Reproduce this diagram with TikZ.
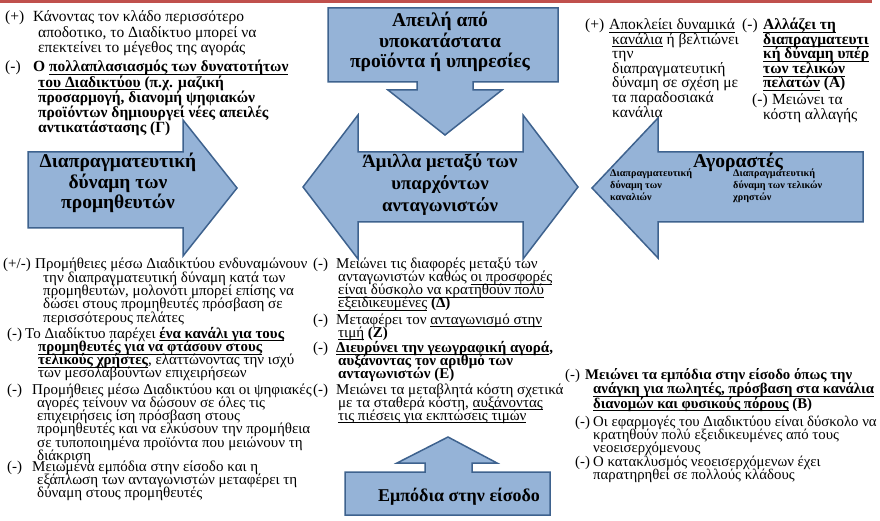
\documentclass[tikz,border=0pt]{standalone}
\usepackage{fontspec}
\setmainfont{Liberation Serif}
\definecolor{arrfill}{RGB}{149,179,215}
\definecolor{arrline}{RGB}{62,98,142}
\definecolor{topbar}{RGB}{192,80,77}
\newcommand{\nx}[1]{\\\hspace*{#1pt}}
\newcommand{\blk}[1]{\vtop{\lineskiplimit=-50pt\let\\\cr\halign{##\hfil\cr#1\crcr}}}
\newsavebox\ulbox
\newcommand{\uln}[1]{\sbox\ulbox{#1}\rlap{\rule[-3pt]{\wd\ulbox}{0.7pt}}\usebox\ulbox}

\begin{document}
\begin{tikzpicture}[x=1pt,y=-1pt,
  arr/.style={fill=arrfill, draw=arrline, line width=1.5pt},
  lbl/.style={font={\bfseries\fontsize{19.5}{20.5}\selectfont}, align=center, inner sep=0pt},
  chanlbl/.style={font={\bfseries\fontsize{10.2}{12}\selectfont}, anchor=base west, inner sep=0pt},
  txt/.style={anchor=base west, inner sep=0pt},
  tla/.style={font={\fontsize{15.5}{15.2}\selectfont}},
  tra/.style={font={\fontsize{15.5}{14.6}\selectfont}},
  llf/.style={font={\fontsize{15}{13.3}\selectfont}},
  mdf/.style={font={\fontsize{15}{13}\selectfont}},
  lrb/.style={font={\fontsize{14.8}{14.5}\selectfont}},
  lrf/.style={font={\fontsize{14.8}{13}\selectfont}}]
  \useasboundingbox (0,0) rectangle (880,521);
  \fill[topbar] (0,0) rectangle (872,3.5);

  \draw[arr] (328,8) -- (558,8) -- (558,82) -- (473,82) -- (473,90) -- (502,90) -- (445,135) -- (388,90) -- (417,90) -- (417,82) -- (328,82) -- cycle;
  \draw[arr] (28,152) -- (183,152) -- (183,120) -- (237,188) -- (183,256) -- (183,228) -- (28,228) -- cycle;
  \draw[arr] (358,152) -- (523,152) -- (523,115) -- (578,187) -- (523,259) -- (523,222) -- (358,222) -- (358,259) -- (303,187) -- (358,115) -- cycle;
  \draw[arr] (863,152) -- (658,152) -- (658,118) -- (592,188) -- (658,258) -- (658,222) -- (863,222) -- cycle;
  \draw[arr] (345,515) -- (550,515) -- (550,472) -- (472,472) -- (472,463) -- (497,463) -- (448,437) -- (397,463) -- (425,463) -- (425,472) -- (345,472) -- cycle;

  \node[lbl] (subst) at (440,42) {Απειλή από\\υποκατάστατα\\προϊόντα ή υπηρεσίες};
  \node[lbl] (suppl) at (118,183) {Διαπραγματευτική\\δύναμη των\\προμηθευτών};
  \node[lbl, font={\bfseries\fontsize{18.8}{22}\selectfont}] (rival) at (440,185) {Άμιλλα μεταξύ των\\υπαρχόντων\\ανταγωνιστών};
  \node[lbl, font={\bfseries\fontsize{19.6}{22}\selectfont}] (buyer) at (738,162) {Αγοραστές};
  \node[chanlbl] (chan) at (610,177) {\blk{Διαπραγματευτική\\δύναμη των\\καναλιών}};
  \node[chanlbl] (endu) at (733,177) {\blk{Διαπραγματευτική\\δύναμη των τελικών\\χρηστών}};
  \node[lbl, font={\bfseries\fontsize{18}{20}\selectfont}] (entry) at (459,497) {Εμπόδια στην είσοδο};

  \node[txt, tla] (tl1) at (5,22) {\blk{\makebox[28pt][l]{(+)}Κάνοντας τον κλάδο περισσότερο\nx{33}αποδοτικο, το Διαδίκτυο μπορεί να\nx{33}επεκτείνει το μέγεθος της αγοράς}};
  \node[txt, tla] (tl2) at (5,72) {\blk{\makebox[28pt][l]{(-)}\textbf{Ο \uln{πολλαπλασιασμός των δυνατοτήτων}}\nx{33}\textbf{\uln{του Διαδικτύου} (π.χ. μαζική}\nx{33}\textbf{προσαρμογή, διανομή ψηφιακών}\nx{33}\textbf{προϊόντων δημιουργεί νέες απειλές}\nx{33}\textbf{αντικατάστασης (Γ)}}};

  \node[txt, tra] (tr1) at (585,29.5) {\blk{\makebox[24pt][l]{(+)}\uln{Αποκλείει δυναμικά}\nx{27}\uln{κανάλια} ή βελτιώνει\nx{27}την\nx{27}διαπραγματευτική\nx{27}δύναμη σε σχέση με\nx{27}τα παραδοσιακά\nx{27}κανάλια}};
  \node[txt, tra] (tr2) at (742,29.5) {\blk{\makebox[21pt][l]{(-)}\textbf{\uln{Αλλάζει τη}}\nx{21}\textbf{\uln{διαπραγματευτι}}\nx{21}\textbf{\uln{κή δύναμη υπέρ}}\nx{21}\textbf{\uln{των τελικών}}\nx{21}\textbf{\uln{πελατών} (Α)}}};
  \node[txt, tra] (tr3) at (752,104.5) {\blk{\makebox[20pt][l]{(-)}Μειώνει τα\nx{11}κόστη αλλαγής}};

  \node[txt, llf] (ll1) at (3,269) {\blk{\makebox[32pt][l]{(+/-)}Προμήθειες μέσω Διαδικτύου ενδυναμώνουν\nx{40}την διαπραγματευτική δύναμη κατά των\nx{40}προμηθευτών, μολονότι μπορεί επίσης να\nx{40}δώσει στους προμηθευτές πρόσβαση σε\nx{40}περισσότερους πελάτες}};
  \node[txt, llf] (ll2) at (7,338) {\blk{\makebox[18pt][l]{(-)}Το Διαδίκτυο παρέχει \textbf{\uln{ένα κανάλι για τους}}\nx{31}\textbf{\uln{προμηθευτές για να φτάσουν στους}}\nx{31}\textbf{\uln{τελικούς χρήστες}}, ελαττώνοντας την ισχύ\nx{31}των μεσολαβούντων επιχειρήσεων}};
  \node[txt, llf] (ll3) at (7,394) {\blk{\makebox[25pt][l]{(-)}Προμήθειες μέσω Διαδικτύου και οι ψηφιακές\nx{30}αγορές τείνουν να δώσουν σε όλες τις\nx{30}επιχειρήσεις ίση πρόσβαση στους\nx{30}προμηθευτές και να ελκύσουν την προμήθεια\nx{30}σε τυποποιημένα προϊόντα που μειώνουν τη\nx{30}διάκριση}};
  \node[txt, llf] (ll4) at (7,471) {\blk{\makebox[25pt][l]{(-)}Μειωμένα εμπόδια στην είσοδο και η\nx{30}εξάπλωση των ανταγωνιστών μεταφέρει τη\nx{30}δύναμη στους προμηθευτές}};

  \node[txt, mdf] (md1) at (313,269) {\blk{\makebox[23pt][l]{(-)}Μειώνει τις διαφορές μεταξύ των\nx{25}ανταγωνιστών καθώς \uln{οι προσφορές}\nx{25}\uln{είναι δύσκολο να κρατηθούν πολύ}\nx{25}\uln{εξειδικευμένες} \textbf{(Δ)}}};
  \node[txt, mdf] (md2) at (313,324) {\blk{\makebox[23pt][l]{(-)}Μεταφέρει τον \uln{ανταγωνισμό στην}\nx{25}\uln{τιμή} \textbf{(Ζ)}}};
  \node[txt, mdf] (md3) at (313,352) {\blk{\makebox[23pt][l]{(-)}\textbf{\uln{Διευρύνει την γεωγραφική αγορά},}\nx{25}\textbf{αυξάνοντας τον αριθμό των}\nx{25}\textbf{ανταγωνιστών (Ε)}}};
  \node[txt, mdf] (md4) at (313,394) {\blk{\makebox[23pt][l]{(-)}Μειώνει τα μεταβλητά κόστη σχετικά\nx{25}με τα σταθερά κόστη, \uln{αυξάνοντας}\nx{25}\uln{τις πιέσεις για εκπτώσεις τιμών}}};

  \node[txt, lrb] (lr1) at (565,379) {\blk{\makebox[20pt][l]{(-)}\textbf{Μειώνει τα εμπόδια στην είσοδο όπως την}\nx{28}\textbf{\uln{ανάγκη για πωλητές, πρόσβαση στα κανάλια}}\nx{28}\textbf{\uln{διανομών και φυσικούς πόρους} (Β)}}};
  \node[txt, lrf] (lr2) at (575,426) {\blk{\makebox[18pt][l]{(-)}Οι εφαρμογές του Διαδικτύου είναι δύσκολο να\nx{18}κρατηθούν πολύ εξειδικευμένες από τους\nx{18}νεοεισερχόμενους}};
  \node[txt, lrf] (lr3) at (575,466) {\blk{\makebox[18pt][l]{(-)}Ο κατακλυσμός νεοεισερχόμενων έχει\nx{18}παρατηρηθεί σε πολλούς κλάδους}};
\end{tikzpicture}
\end{document}
